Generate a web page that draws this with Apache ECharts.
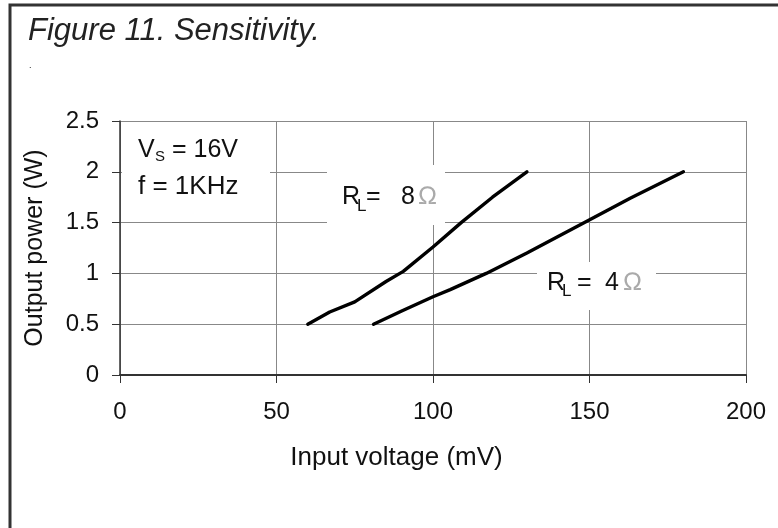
<!DOCTYPE html>
<html>
<head>
<meta charset="utf-8">
<script src="https://cdn.jsdelivr.net/npm/echarts@6/dist/echarts.min.js"></script>
<style>
html,body{margin:0;padding:0;background:#fff;}
#chart{width:778px;height:528px;}
</style>
</head>
<body>
<div id="chart"></div>
<script>
// ---- data ----
var xTicks = [0, 50, 100, 150, 200];
var yTicks = [0, 0.5, 1, 1.5, 2, 2.5];
var x8 = [60, 67, 75, 85, 90.5, 100, 109, 119, 130];
var y8 = [0.5, 0.62, 0.72, 0.92, 1.02, 1.26, 1.5, 1.75, 2.0];
var x4 = [81, 90, 100, 105.5, 117, 130, 149, 163, 180];
var y4 = [0.5, 0.63, 0.77, 0.84, 1.0, 1.2, 1.51, 1.74, 2.0];

var FONT = "'Liberation Sans', Arial, sans-serif";
function pairs(xs, ys){ return xs.map(function(x,i){ return [x, ys[i]]; }); }

var chart = echarts.init(document.getElementById('chart'), null, {renderer:'canvas'});

function txt(text, x, y, size, opts){
  opts = opts || {};
  return {
    type:'text', z:100, x:x, y:y,
    style:{
      text:text, fontSize:size, fontFamily:FONT,
      fontStyle: opts.italic ? 'italic' : 'normal',
      fill: opts.fill || '#111',
      textAlign: opts.align || 'left',
      textVerticalAlign: 'middle'
    }
  };
}
function box(x0, y0, x1, y1){
  return {type:'rect', z:90, shape:{x:x0, y:y0, width:x1-x0, height:y1-y0}, style:{fill:'#fff', stroke:null}};
}

var option = {
  animation:false,
  backgroundColor:'#fff',
  grid:{left:120, right:32, top:121, bottom:153, containLabel:false},
  xAxis:{
    type:'value', min:xTicks[0], max:xTicks[xTicks.length-1], interval:50,
    name:'Input voltage (mV)', nameLocation:'middle', nameGap:70,
    nameTextStyle:{fontSize:26, fontFamily:FONT, color:'#111', padding:[0,73,0,0]},
    axisLine:{show:true, lineStyle:{color:'#333', width:2}},
    axisTick:{show:true, inside:false, length:8, lineStyle:{color:'#333', width:1}},
    axisLabel:{fontSize:24, fontFamily:FONT, color:'#111', margin:25},
    splitLine:{show:true, lineStyle:{color:'#888', width:1}}
  },
  yAxis:{
    type:'value', min:yTicks[0], max:yTicks[yTicks.length-1], interval:0.5,
    name:'Output power (W)', nameLocation:'middle', nameGap:72, nameRotate:90,
    nameTextStyle:{fontSize:25, fontFamily:FONT, color:'#111'},
    axisLine:{show:true, lineStyle:{color:'#333', width:1.5}},
    axisTick:{show:true, inside:false, length:8, lineStyle:{color:'#333', width:1}},
    axisLabel:{fontSize:24, fontFamily:FONT, color:'#111', margin:21},
    splitLine:{show:true, lineStyle:{color:'#888', width:1}}
  },
  series:[
    {type:'line', name:'RL=8', data:pairs(x8,y8), showSymbol:false, symbol:'none',
     lineStyle:{color:'#000', width:3.4, join:'round', cap:'round'}, z:5},
    {type:'line', name:'RL=4', data:pairs(x4,y4), showSymbol:false, symbol:'none',
     lineStyle:{color:'#000', width:3.4, join:'round', cap:'round'}, z:5}
  ],
  graphic:[
    {type:'rect', z:100, shape:{x:10, y:5, width:900, height:700}, style:{fill:null, stroke:'#333', lineWidth:3}},
    txt('Figure 11. Sensitivity.', 28, 31, 31, {italic:true, fill:'#222'}),
    txt('.', 29, 66, 9),
    box(122, 130, 270, 216),
    txt('V', 138, 150, 25),
    txt('S', 155, 157, 15),
    txt('= 16V', 172, 150, 25),
    txt('f = 1KHz', 138, 187, 26),
    box(327, 165, 445, 225),
    txt('R', 342, 197, 25),
    txt('L', 357, 206, 17),
    txt('=', 366, 197, 25),
    txt('8', 401, 197, 25),
    txt('\u2126', 418, 197, 25, {fill:'#aaa'}),
    box(537, 262, 656, 310),
    txt('R', 547, 283, 25),
    txt('L', 562, 291, 17),
    txt('=', 577, 283, 25),
    txt('4', 605, 283, 25),
    txt('\u2126', 623, 283, 25, {fill:'#aaa'})
  ]
};
chart.setOption(option);
</script>
</body>
</html>
